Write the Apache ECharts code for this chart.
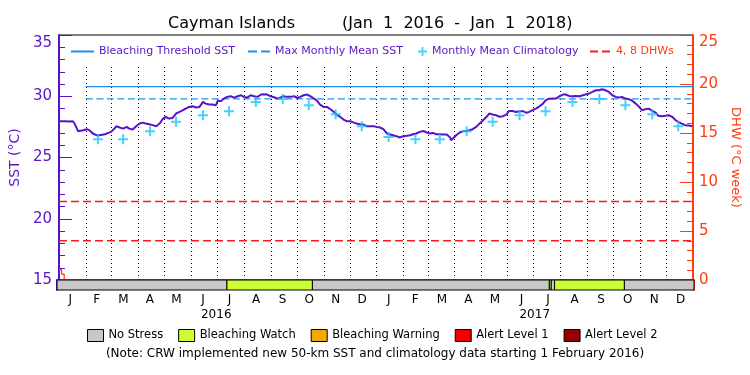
<!DOCTYPE html>
<html><head><meta charset="utf-8">
<script src="https://cdn.jsdelivr.net/npm/echarts@6/dist/echarts.min.js"></script>
<style>html,body{margin:0;padding:0;background:#fff}#c{width:750px;height:375px}</style>
</head><body><div id="c"></div>
<script>
// ---------------- DATA ----------------
const sstDates = ['2016-01-01','2016-01-05','2016-01-09','2016-01-13','2016-01-17','2016-01-19','2016-01-23','2016-01-25','2016-01-29','2016-02-02','2016-02-05','2016-02-09','2016-02-13','2016-02-15','2016-02-17','2016-02-19','2016-02-23','2016-02-27','2016-03-01','2016-03-05','2016-03-07','2016-03-11','2016-03-15','2016-03-19','2016-03-22','2016-03-26','2016-03-30','2016-04-03','2016-04-07','2016-04-10','2016-04-14','2016-04-18','2016-04-22','2016-04-26','2016-04-30','2016-05-03','2016-05-07','2016-05-11','2016-05-15','2016-05-19','2016-05-23','2016-05-26','2016-05-30','2016-06-03','2016-06-07','2016-06-11','2016-06-15','2016-06-18','2016-06-22','2016-06-26','2016-06-30','2016-07-02','2016-07-06','2016-07-09','2016-07-13','2016-07-17','2016-07-21','2016-07-25','2016-07-29','2016-08-01','2016-08-05','2016-08-09','2016-08-13','2016-08-15','2016-08-17','2016-08-21','2016-08-24','2016-08-28','2016-09-01','2016-09-05','2016-09-09','2016-09-12','2016-09-16','2016-09-20','2016-09-24','2016-09-28','2016-10-02','2016-10-05','2016-10-09','2016-10-13','2016-10-17','2016-10-21','2016-10-25','2016-10-28','2016-11-01','2016-11-05','2016-11-09','2016-11-13','2016-11-16','2016-11-20','2016-11-24','2016-11-28','2016-12-02','2016-12-06','2016-12-09','2016-12-13','2016-12-17','2016-12-21','2016-12-25','2016-12-29','2017-01-01','2017-01-05','2017-01-09','2017-01-13','2017-01-17','2017-01-20','2017-01-24','2017-01-28','2017-02-01','2017-02-05','2017-02-09','2017-02-12','2017-02-16','2017-02-20','2017-02-24','2017-02-26','2017-02-28','2017-03-04','2017-03-07','2017-03-11','2017-03-15','2017-03-19','2017-03-23','2017-03-27','2017-03-28','2017-03-30','2017-04-03','2017-04-07','2017-04-11','2017-04-15','2017-04-18','2017-04-22','2017-04-26','2017-04-30','2017-05-04','2017-05-08','2017-05-11','2017-05-15','2017-05-19','2017-05-23','2017-05-27','2017-05-31','2017-06-03','2017-06-07','2017-06-11','2017-06-15','2017-06-19','2017-06-23','2017-06-26','2017-06-30','2017-07-04','2017-07-08','2017-07-12','2017-07-15','2017-07-19','2017-07-21','2017-07-23','2017-07-27','2017-07-31','2017-08-04','2017-08-07','2017-08-11','2017-08-15','2017-08-19','2017-08-23','2017-08-27','2017-08-30','2017-09-03','2017-09-07','2017-09-11','2017-09-13','2017-09-15','2017-09-18','2017-09-22','2017-09-26','2017-09-30','2017-10-04','2017-10-08','2017-10-11','2017-10-15','2017-10-19','2017-10-23','2017-10-27','2017-10-31','2017-11-03','2017-11-07','2017-11-11','2017-11-15','2017-11-19','2017-11-22','2017-11-26','2017-11-30','2017-12-04','2017-12-08','2017-12-12','2017-12-15','2017-12-19','2017-12-23','2017-12-27','2017-12-31'];
const sstValues = [27.96,27.96,27.96,27.94,27.96,27.77,27.15,27.28,27.23,27.31,27.23,26.96,26.82,26.90,26.82,26.74,26.90,27.01,27.09,27.36,27.55,27.45,27.36,27.50,27.36,27.28,27.55,27.77,27.85,27.77,27.72,27.64,27.55,27.77,28.18,28.32,28.18,28.23,28.59,28.72,28.86,28.99,29.13,29.18,29.08,29.13,29.54,29.40,29.32,29.32,29.27,29.62,29.62,29.81,29.95,30.00,29.89,30.00,30.08,29.95,29.89,30.08,30.00,29.86,29.95,30.14,30.16,30.14,30.00,29.92,29.81,29.89,30.00,29.95,29.95,30.00,29.86,29.95,30.08,30.14,30.00,29.81,29.59,29.32,29.13,29.13,28.94,28.72,28.51,28.32,28.10,27.96,27.96,27.85,27.77,27.72,27.69,27.55,27.55,27.55,27.50,27.45,27.31,26.96,26.87,26.82,26.74,26.63,26.74,26.77,26.82,26.90,26.96,27.09,27.17,27.23,27.04,26.96,27.01,26.90,26.90,26.87,26.87,26.63,26.41,26.55,26.82,27.04,27.15,27.17,27.23,27.31,27.50,27.77,28.04,28.32,28.59,28.51,28.45,28.32,28.37,28.53,28.80,28.80,28.72,28.78,28.78,28.64,28.72,28.86,28.99,29.18,29.40,29.67,29.80,29.76,29.81,29.81,30.00,30.14,30.14,30.03,30.00,30.03,30.00,30.08,30.14,30.22,30.35,30.49,30.35,30.49,30.57,30.49,30.35,30.08,29.95,29.89,29.95,29.81,29.76,29.62,29.40,29.13,28.86,28.94,28.99,28.80,28.67,28.40,28.37,28.40,28.45,28.32,28.04,27.91,27.77,27.64,27.61,27.55];

const climDates = ['2016-02-15','2016-03-15','2016-04-15','2016-05-15','2016-06-15','2016-07-15','2016-08-15','2016-09-15','2016-10-15','2016-11-15','2016-12-15','2017-01-15','2017-02-15','2017-03-15','2017-04-15','2017-05-15','2017-06-15','2017-07-15','2017-08-15','2017-09-15','2017-10-15','2017-11-15','2017-12-15'];
const climValues = [26.48,26.48,27.15,27.91,28.45,28.78,29.54,29.78,29.27,28.53,27.55,26.68,26.48,26.48,27.15,27.91,28.45,28.78,29.54,29.78,29.27,28.53,27.55];

const thresholdSST = 30.78;
const mmmSST = 29.78;
const refLineDates = ['2016-02-01','2018-01-01'];

const dhwDates = ['2016-01-01','2016-01-04','2016-01-07','2017-12-31'];
const dhwValues = [1.05, 0.6, 0, 0];
const dhwLevels = [4, 8];

const statusStart = ['2016-01-01','2016-07-14','2016-10-20','2017-07-19','2017-07-21','2017-07-25','2017-10-13'];
const statusEnd   = ['2016-07-14','2016-10-20','2017-07-19','2017-07-21','2017-07-25','2017-10-13','2018-01-01'];
const statusLevel = [0,1,0,1,0,1,0];
const statusNames = ['No Stress','Bleaching Watch','Bleaching Warning','Alert Level 1','Alert Level 2'];

const monthKeys = ['2016-01','2016-02','2016-03','2016-04','2016-05','2016-06','2016-07','2016-08','2016-09','2016-10','2016-11','2016-12','2017-01','2017-02','2017-03','2017-04','2017-05','2017-06','2017-07','2017-08','2017-09','2017-10','2017-11','2017-12'];
const monthLetters = ['J','F','M','A','M','J','J','A','S','O','N','D'];
const yearLabels = ['2016','2017'];
const dateMin = '2016-01-01', dateMax = '2018-01-01';

// ---------------- STYLE ----------------
const FONT = 'DejaVu Sans';
const PURPLE = '#5a14c8';
const RED = '#ff3c10';
const statusColors = ['#c8c8c8','#ccff33','#f5a800','#ee0000','#960000'];
const gridLineTopSST = 32.55;
const L = 57, R = 56;

const chart = echarts.init(document.getElementById('c'), null, {renderer:'canvas'});

const statusSeries = statusNames.map((name, li) => ({
  type:'custom', name, xAxisIndex:1, yAxisIndex:2, silent:true, z:5,
  itemStyle:{color:statusColors[li]},
  dimensions:[{name:'s',type:'time'},{name:'e',type:'time'}],
  encode:{x:[0,1]},
  data: statusStart.map((s,i)=>[s,statusEnd[i],statusLevel[i]]).filter(p=>p[2]===li).map(p=>[p[0],p[1]]),
  renderItem:(params, api)=>{
    const p0 = api.coord([api.value(0), 0]);
    const p1 = api.coord([api.value(1), 1]);
    return {type:'rect', shape:{x:p0[0], y:p1[1], width:p1[0]-p0[0], height:p0[1]-p1[1]},
      style:{fill:statusColors[li], stroke:'#000', lineWidth:1}};
  }
}));

const topLegendText = {fontFamily:FONT, fontSize:11, color:PURPLE};
const hiddenSymbol = {color:'rgba(0,0,0,0)', borderColor:'rgba(0,0,0,0)', borderWidth:0, opacity:0};
const plusPath = 'path://M4,0H6V10H4ZM0,4H10V6H0Z';

const option = {
  animation:false,
  backgroundColor:'#fff',
  title:[
    {text:'Cayman Islands', left:168, top:16, padding:0, textStyle:{fontFamily:FONT, fontSize:16, fontWeight:'normal', color:'#000'}},
    {text:'(Jan  1  2016  -  Jan  1  2018)', left:342, top:16, padding:0, textStyle:{fontFamily:FONT, fontSize:16, fontWeight:'normal', color:'#000'}},
    {text:'(Note: CRW implemented new 50-km SST and climatology data starting 1 February 2016)', left:'center', top:348, padding:0, textStyle:{fontFamily:FONT, fontSize:12, fontWeight:'normal', color:'#000'}}
  ],
  legend:[
    {left:70, top:46, padding:0, itemWidth:23, itemHeight:11, selectedMode:false, data:['Bleaching Threshold SST'], textStyle:topLegendText, itemStyle:hiddenSymbol},
    {left:247, top:46, padding:0, itemWidth:22, itemHeight:11, selectedMode:false, data:['Max Monthly Mean SST'], textStyle:topLegendText, itemStyle:hiddenSymbol, lineStyle:{type:[9,4]}},
    {left:418, top:46, padding:0, itemWidth:9, itemHeight:9, selectedMode:false, data:['Monthly Mean Climatology'], textStyle:topLegendText},
    {left:589, top:46, padding:0, itemWidth:21, itemHeight:11, selectedMode:false, data:['4, 8 DHWs'], textStyle:{fontFamily:FONT, fontSize:11, color:RED}, itemStyle:hiddenSymbol, lineStyle:{type:[8,4]}},
    {left:87, top:329, padding:0, itemWidth:16, itemHeight:12, itemGap:15, icon:'rect', selectedMode:false,
      data:statusNames,
      formatter:(n)=> n===statusNames[0] ? '{w|'+n+'}' : n,
      itemStyle:{borderColor:'#000', borderWidth:1},
      textStyle:{fontFamily:FONT, fontSize:11.5, color:'#000', rich:{w:{width:60, fontFamily:FONT, fontSize:11.5, color:'#000'}}}}
  ],
  grid:[
    {left:L, right:R, top:35, height:245, show:true, borderColor:'#000', borderWidth:1, backgroundColor:'transparent'},
    {left:L, right:R, top:280, height:10, show:false}
  ],
  xAxis:[
    {type:'time', gridIndex:0, min:dateMin, max:dateMax, show:false},
    {type:'time', gridIndex:1, min:dateMin, max:dateMax, show:false},
    {type:'category', gridIndex:1, position:'bottom', data:monthKeys, boundaryGap:true,
      axisLine:{show:false}, axisTick:{show:false}, splitLine:{show:false},
      axisLabel:{interval:0, margin:4, fontFamily:FONT, fontSize:12, color:'#000',
        formatter:(v)=>monthLetters[parseInt(v.slice(5),10)-1]}},
    {type:'category', gridIndex:1, position:'bottom', offset:14, data:yearLabels, boundaryGap:true,
      axisLine:{show:false}, axisTick:{show:false}, splitLine:{show:false},
      axisLabel:{interval:0, margin:5, fontFamily:FONT, fontSize:12, color:'#000'}}
  ],
  yAxis:[
    {type:'value', gridIndex:0, position:'left', min:15, max:35, interval:5,
      axisLine:{show:true, lineStyle:{color:PURPLE, width:2}},
      axisTick:{show:true, inside:true, length:13, lineStyle:{color:PURPLE, width:1}},
      minorTick:{show:true, splitNumber:5, length:6, lineStyle:{color:PURPLE, width:1}},
      splitLine:{show:false},
      axisLabel:{margin:7, fontFamily:FONT, fontSize:15, color:PURPLE,
        formatter:(v)=> v===35 ? '{t|35}' : String(v),
        rich:{t:{fontFamily:FONT, fontSize:15, color:PURPLE, padding:[16,0,0,0]}}},
      name:'SST (°C)', nameLocation:'middle', nameGap:33, nameRotate:90,
      nameTextStyle:{fontFamily:FONT, fontSize:14, color:PURPLE}},
    {type:'value', gridIndex:0, position:'right', min:0, max:25, interval:5,
      axisLine:{show:true, lineStyle:{color:RED, width:2}},
      axisTick:{show:true, inside:true, length:13, lineStyle:{color:RED, width:1}},
      minorTick:{show:true, splitNumber:5, length:6, lineStyle:{color:RED, width:1}},
      splitLine:{show:false},
      axisLabel:{margin:6, fontFamily:FONT, fontSize:15, color:RED,
        formatter:(v)=> v===25 ? '{t|25}' : String(v),
        rich:{t:{fontFamily:FONT, fontSize:15, color:RED, padding:[14,0,0,0]}}},
      name:'DHW (°C week)', nameLocation:'middle', nameGap:25, nameRotate:-90,
      nameTextStyle:{fontFamily:FONT, fontSize:13, color:RED}},
    {type:'value', gridIndex:1, position:'left', min:0, max:1,
      axisLine:{show:true, lineStyle:{color:PURPLE, width:2}}, axisTick:{show:false}, axisLabel:{show:false}, splitLine:{show:false}},
    {type:'value', gridIndex:1, position:'right', min:0, max:1,
      axisLine:{show:true, lineStyle:{color:RED, width:2}}, axisTick:{show:false}, axisLabel:{show:false}, splitLine:{show:false}}
  ],
  series:[
    {type:'custom', name:'monthGrid', xAxisIndex:0, yAxisIndex:0, silent:true, z:1,
      dimensions:[{name:'d',type:'time'}], encode:{x:0},
      data: monthKeys.slice(1).map(k=>[k+'-01']),
      renderItem:(params, api)=>{
        const b = api.coord([api.value(0), 15]);
        const t = api.coord([api.value(0), gridLineTopSST]);
        return {type:'line', shape:{x1:Math.round(b[0])+0.5, y1:b[1], x2:Math.round(b[0])+0.5, y2:t[1]},
          style:{stroke:'#000', lineWidth:1, lineDash:[1,3]}};
      }},
    {type:'line', name:'4, 8 DHWs', xAxisIndex:0, yAxisIndex:1, symbol:'none', silent:true, z:2,
      lineStyle:{color:'#ff1a1a', width:1.5, type:[8,4]}, itemStyle:{color:'#ff1a1a'},
      connectNulls:false,
      data: dhwLevels.flatMap((v,i)=>{ const seg=[[dateMin,v],[dateMax,v]]; return i<dhwLevels.length-1 ? seg.concat([[dateMax,null]]) : seg; })},
    {type:'line', name:'Bleaching Threshold SST', xAxisIndex:0, yAxisIndex:0, symbol:'none', silent:true, z:2,
      lineStyle:{color:'#1e8ce6', width:1.3}, itemStyle:{color:'#1e8ce6'},
      data: refLineDates.map(d=>[d, thresholdSST])},
    {type:'line', name:'Max Monthly Mean SST', xAxisIndex:0, yAxisIndex:0, symbol:'none', silent:true, z:2,
      lineStyle:{color:'#1e96ec', width:1.3, type:[7,3.5]}, itemStyle:{color:'#1e96ec'},
      data: refLineDates.map(d=>[d, mmmSST])},
    {type:'scatter', name:'Monthly Mean Climatology', xAxisIndex:0, yAxisIndex:0, silent:true, z:4,
      symbol:plusPath, symbolSize:10, itemStyle:{color:'#1cc4fa'},
      data: climDates.map((d,i)=>[d, climValues[i]])},
    {type:'line', name:'SST', xAxisIndex:0, yAxisIndex:0, symbol:'none', silent:true, z:3,
      lineStyle:{color:PURPLE, width:2}, itemStyle:{color:PURPLE},
      data: sstDates.map((d,i)=>[d, sstValues[i]])},
    {type:'line', name:'DHW', xAxisIndex:0, yAxisIndex:1, symbol:'none', silent:true, z:3, step:'end',
      lineStyle:{color:RED, width:1.3}, itemStyle:{color:RED},
      data: dhwDates.map((d,i)=>[d, dhwValues[i]])}
  ].concat(statusSeries)
};
chart.setOption(option);
</script>
</body></html>
